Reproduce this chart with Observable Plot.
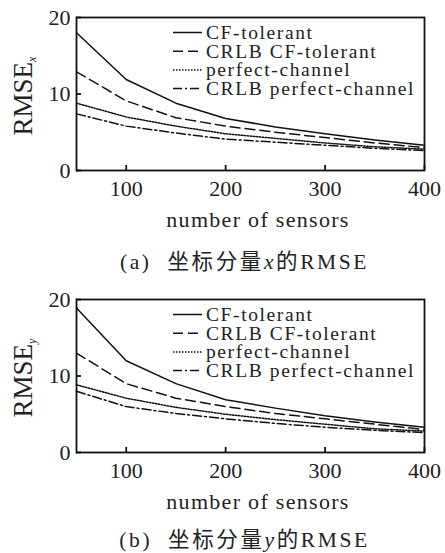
<!DOCTYPE html>
<html>
<head>
<meta charset="utf-8">
<script src="https://cdn.jsdelivr.net/npm/d3@7"></script>
<script src="https://cdn.jsdelivr.net/npm/@observablehq/plot@0.6"></script>
<style>
  html, body { margin: 0; padding: 0; background: #fff; }
  #root { position: relative; width: 445px; height: 553px; overflow: hidden; }
  .panel { position: absolute; left: 0; width: 445px; }
  .caption { position: absolute; left: 22px; width: 445px; text-align: center;
    font-family: "Liberation Serif", "Times New Roman", "Noto Sans CJK SC", serif;
    font-size: 21.5px; line-height: 1; letter-spacing: 2.6px; color: #222; white-space: pre; }
</style>
</head>
<body>
<div id="root"></div>
<script>
// ---- data ----
const sensors = [50, 100, 150, 200, 250, 300, 350, 400];
const seriesNames = ["CF-tolerant", "CRLB CF-tolerant", "perfect-channel", "CRLB perfect-channel"];

// panel (a): RMSE_x
const cfTolerantX      = [18.0, 11.9, 8.8, 6.8, 5.7, 4.8, 4.0, 3.3];
const crlbCfTolerantX  = [12.9, 9.1, 6.9, 5.8, 5.0, 4.3, 3.6, 3.0];
const perfectChannelX  = [8.8, 7.0, 5.8, 4.8, 4.2, 3.6, 3.1, 2.8];
const crlbPerfectX     = [7.4, 5.8, 4.9, 4.1, 3.7, 3.3, 2.9, 2.6];

// panel (b): RMSE_y
const cfTolerantY      = [18.9, 12.0, 9.0, 6.9, 5.8, 4.8, 4.0, 3.3];
const crlbCfTolerantY  = [13.0, 9.0, 7.1, 6.0, 5.1, 4.4, 3.7, 3.0];
const perfectChannelY  = [8.85, 7.1, 5.9, 5.0, 4.3, 3.7, 3.1, 2.8];
const crlbPerfectY     = [8.0, 6.0, 5.1, 4.4, 3.8, 3.3, 2.9, 2.6];

const xTicks = [100, 200, 300, 400];
const yTicks = [0, 10, 20];

const dashes = [null, "10,5", "1.5,1.5", "9,3,2,3"];
const serif = '"Liberation Serif", "Times New Roman", serif';

function makePanel(seriesValues, subVar, top, captionTop, captionLetter) {
  const data = [];
  seriesNames.forEach((name, i) => {
    sensors.forEach((n, j) => data.push({series: name, n, v: seriesValues[i][j]}));
  });
  const chart = Plot.plot({
    width: 445, height: 240,
    marginLeft: 76, marginRight: 21, marginTop: 17, marginBottom: 70,
    style: {fontFamily: serif, fontSize: "22px", color: "#222", background: "transparent", overflow: "visible"},
    x: {domain: [50, 400]},
    y: {domain: [0, 20]},
    marks: [
      ...seriesNames.map((name, i) => Plot.line(data.filter(d => d.series === name), {
        x: "n", y: "v", stroke: "#111", strokeWidth: 1.5,
        strokeDasharray: dashes[i]
      })),
      Plot.frame({stroke: "#111", strokeWidth: 1.8}),
      Plot.axisX(xTicks, {tickSize: -5, tickPadding: 15, label: null, stroke: "#111", strokeWidth: 1.8, fill: "#222"}),
      Plot.axisY(yTicks, {tickSize: -5, tickPadding: 11, label: null, stroke: "#111", strokeWidth: 1.8, fill: "#222"})
    ]
  });
  const svg = d3.select(chart);
  // x axis title
  svg.append("text")
    .attr("x", 258).attr("y", 227)
    .attr("text-anchor", "middle")
    .style("font-family", serif).style("font-size", "22px").style("letter-spacing", "1.3px")
    .attr("fill", "#222")
    .text("number of sensors");
  // y axis title with subscript
  const yl = svg.append("text")
    .attr("transform", "translate(32,96) rotate(-90)")
    .attr("text-anchor", "middle")
    .style("font-family", serif).style("font-size", "27px")
    .attr("fill", "#222");
  yl.append("tspan").text("RMSE");
  yl.append("tspan").attr("dy", 4).style("font-size", "12px").style("font-style", "italic").text(subVar);
  // legend
  const lg = svg.append("g").attr("text-anchor", "start");
  seriesNames.forEach((name, i) => {
    const base = 39 + i * 18.7;
    lg.append("line")
      .attr("x1", 173).attr("x2", 202).attr("y1", base - 6.5).attr("y2", base - 6.5)
      .attr("stroke", "#111").attr("stroke-width", 1.5)
      .attr("stroke-dasharray", dashes[i]);
    lg.append("text")
      .attr("x", 206).attr("y", base)
      .attr("text-anchor", "start")
      .style("font-family", serif).style("font-size", "19.5px").style("letter-spacing", "1.6px")
      .attr("fill", "#222")
      .text(name);
  });

  const panel = document.createElement("div");
  panel.className = "panel";
  panel.style.top = top + "px";
  panel.appendChild(chart);
  const cap = document.createElement("div");
  cap.className = "caption";
  cap.style.top = captionTop + "px";
  cap.innerHTML = "(" + captionLetter + ")  坐标分量<i>" + subVar + "</i>的RMSE";
  document.getElementById("root").appendChild(panel);
  document.getElementById("root").appendChild(cap);
}

makePanel([cfTolerantX, crlbCfTolerantX, perfectChannelX, crlbPerfectX], "x", 0, 252, "a");
makePanel([cfTolerantY, crlbCfTolerantY, perfectChannelY, crlbPerfectY], "y", 282, 530, "b");
</script>
</body>
</html>
